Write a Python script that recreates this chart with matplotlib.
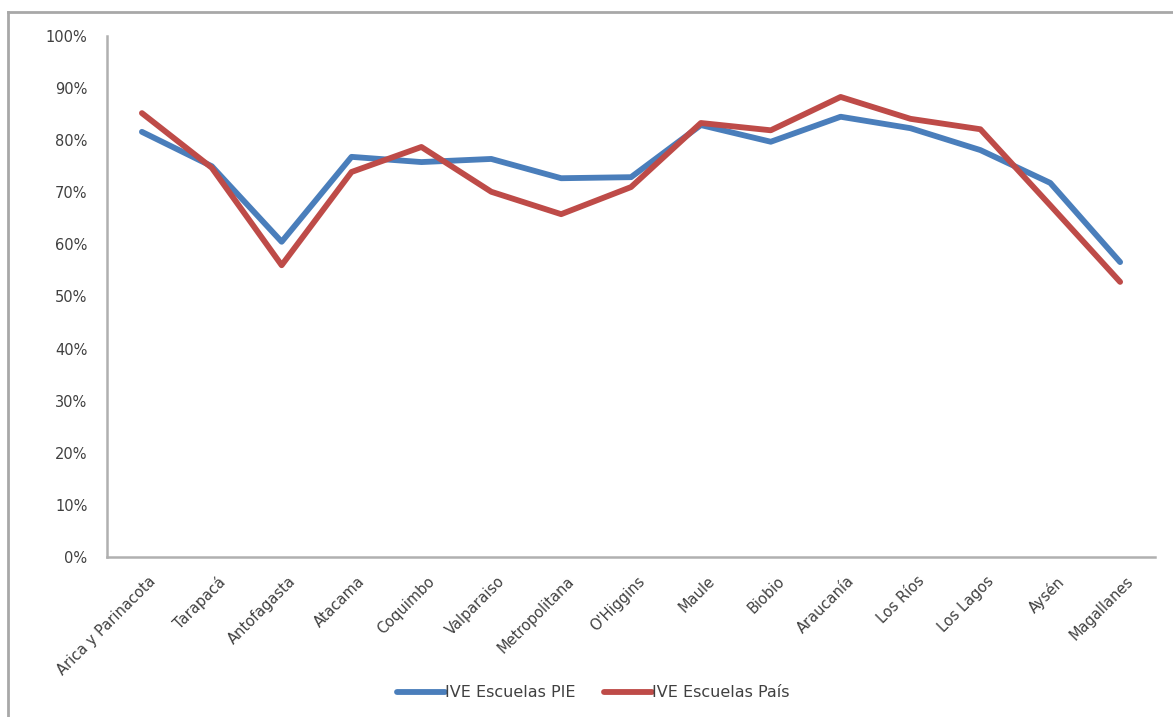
import matplotlib
matplotlib.use('Agg')
import matplotlib.pyplot as plt
import matplotlib.transforms as mtransforms
from matplotlib.lines import Line2D
from matplotlib.ticker import PercentFormatter

# datos por región
regiones = ['Arica y Parinacota', 'Tarapacá', 'Antofagasta', 'Atacama', 'Coquimbo',
            'Valparaiso', 'Metropolitana', "O'Higgins", 'Maule', 'Biobio',
            'Araucanía', 'Los Ríos', 'Los Lagos', 'Aysén', 'Magallanes']
ive_pie = [81.6, 75.0, 60.5, 76.8, 75.8, 76.4, 72.7, 72.9, 82.9, 79.7,
           84.5, 82.3, 78.1, 71.8, 56.6]
ive_pais = [85.2, 74.7, 56.0, 73.9, 78.7, 70.1, 65.8, 71.0, 83.3, 81.9,
            88.3, 84.1, 82.1, 67.5, 52.8]

plt.rcParams['font.family'] = ['DejaVu Sans']

fig = plt.figure(figsize=(11.73, 7.17), dpi=100)
ax = fig.add_axes([0.0912, 0.2232, 0.8935, 0.7266])

x = range(len(regiones))
ax.plot(x, ive_pie, color='#4A7EBB', lw=4.2, label='IVE Escuelas PIE', solid_capstyle='round')
ax.plot(x, ive_pais, color='#BE4B48', lw=4.2, label='IVE Escuelas País', solid_capstyle='round')

ax.set_xlim(-0.5, len(regiones) - 0.5)
ax.set_ylim(0, 100)
ax.set_yticks(range(0, 101, 10))
ax.yaxis.set_major_formatter(PercentFormatter(decimals=0))
ax.set_xticks(list(x))
ax.set_xticklabels(regiones, rotation=45, ha='right', rotation_mode='anchor')
ax.tick_params(axis='y', length=0, labelsize=10.5, colors='#404040', pad=14)
ax.tick_params(axis='x', length=0, labelsize=10.5, colors='#404040', pad=12)

# desplazar etiquetas del eje x un poco a la derecha
desp = mtransforms.ScaledTranslation(6 / 100, 0, fig.dpi_scale_trans)
for lab in ax.get_xticklabels():
    lab.set_transform(lab.get_transform() + desp)

for s in ['top', 'right']:
    ax.spines[s].set_visible(False)
for s in ['left', 'bottom']:
    ax.spines[s].set_color('#B0B0B0')
    ax.spines[s].set_linewidth(1.8)

leg = fig.legend(loc='center', bbox_to_anchor=(0.506, 0.034), ncol=2, frameon=False,
                 handlelength=3.0, handletextpad=0.0, columnspacing=1.8, fontsize=11.5)
for t in leg.get_texts():
    t.set_color('#404040')

# marco exterior del gráfico
fig.add_artist(Line2D([8 / 1173, 8 / 1173], [0, 1 - 12 / 717], transform=fig.transFigure,
                      color='#A8A8A8', lw=2))
fig.add_artist(Line2D([8 / 1173, 1], [1 - 12 / 717, 1 - 12 / 717], transform=fig.transFigure,
                      color='#A8A8A8', lw=2))

fig.savefig('out.png', dpi=100)
